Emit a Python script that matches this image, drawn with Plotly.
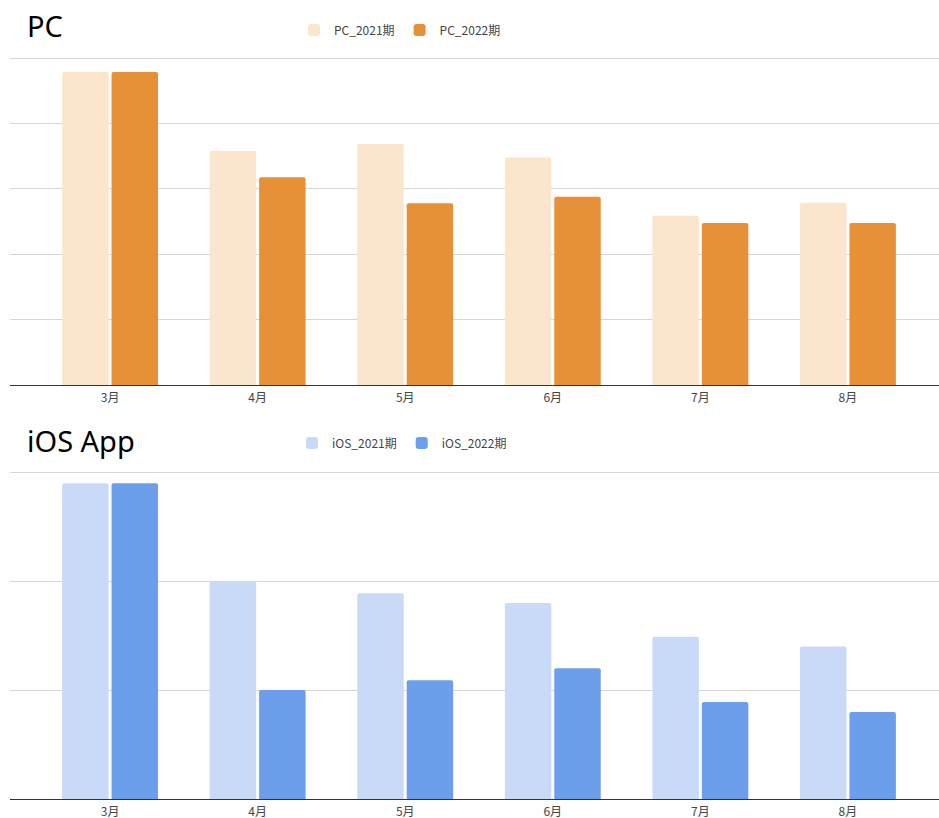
import plotly.graph_objects as go

months = ["3月", "4月", "5月", "6月", "7月", "8月"]
pc_2021 = [4.79, 3.58, 3.69, 3.48, 2.59, 2.79]
pc_2022 = [4.79, 3.18, 2.78, 2.88, 2.48, 2.48]
ios_2021 = [2.90, 2.00, 1.89, 1.80, 1.49, 1.40]
ios_2022 = [2.90, 1.00, 1.09, 1.20, 0.89, 0.80]

W, H = 939, 818
FONT = "Noto Sans CJK JP, Noto Sans, Arial, sans-serif"

fig = go.Figure()
fig.add_trace(go.Bar(x=months, y=pc_2021, name="PC_2021期", marker=dict(color="#FCE5CD", cornerradius=2),
                     xaxis="x", yaxis="y", legend="legend"))
fig.add_trace(go.Bar(x=months, y=pc_2022, name="PC_2022期", marker=dict(color="#E69138", cornerradius=2),
                     xaxis="x", yaxis="y", legend="legend"))
fig.add_trace(go.Bar(x=months, y=ios_2021, name="iOS_2021期", marker=dict(color="#C9DAF8", cornerradius=2),
                     xaxis="x2", yaxis="y2", legend="legend2"))
fig.add_trace(go.Bar(x=months, y=ios_2022, name="iOS_2022期", marker=dict(color="#6D9EEB", cornerradius=2),
                     xaxis="x2", yaxis="y2", legend="legend2"))

def px_y(p):
    return 1 - p / H

xrange = [-0.678, 5.617]
xcommon = dict(range=xrange, domain=[10 / W, 1], showline=True, linecolor="#333333", linewidth=1,
               showgrid=False, ticks="", automargin=False, fixedrange=True, ticklabelstandoff=2,
               tickfont=dict(family=FONT, size=12, color="#444444"))
ycommon = dict(showgrid=True, gridcolor="#d6d6d6", gridwidth=1, showticklabels=False, ticks="",
               zeroline=False, showline=False, automargin=False, dtick=1, fixedrange=True)

u1 = (385 - 58.3) / 5
u2 = (799 - 472.3) / 3
ext1, ext2 = 0.06, 0.04

leg_common = dict(orientation="h", xanchor="left", yanchor="middle",
                  font=dict(family=FONT, size=12, color="#444444"), bgcolor="rgba(0,0,0,0)",
                  itemwidth=30, traceorder="normal")

fig.update_layout(
    width=W, height=H,
    margin=dict(l=0, r=0, t=0, b=0),
    paper_bgcolor="white", plot_bgcolor="white",
    template="none",
    barmode="group", bargap=0.33, bargroupgap=0.06,
    xaxis=dict(**xcommon, anchor="y"),
    yaxis=dict(**ycommon, range=[0, 5 + ext1], domain=[px_y(385), px_y(58.3 - ext1 * u1)], anchor="x"),
    xaxis2=dict(**xcommon, anchor="y2"),
    yaxis2=dict(**ycommon, range=[0, 3 + ext2], domain=[px_y(799), px_y(472.3 - ext2 * u2)], anchor="x2"),
    legend=dict(**leg_common, x=294 / W, y=px_y(30)),
    legend2=dict(**leg_common, x=292 / W, y=px_y(443)),
    annotations=[
        dict(text="PC", x=25 / W, y=px_y(26), xref="paper", yref="paper", xanchor="left", yanchor="middle",
             showarrow=False, font=dict(family="Noto Sans, sans-serif", size=29, color="#000000")),
        dict(text="iOS App", x=25 / W, y=px_y(440), xref="paper", yref="paper", xanchor="left", yanchor="middle",
             showarrow=False, font=dict(family="Noto Sans, sans-serif", size=29, color="#000000")),
    ],
    showlegend=True,
)

fig.write_html("out.html", config={"displayModeBar": False},
               post_script="document.body.style.margin='0';document.body.style.overflow='hidden';")
